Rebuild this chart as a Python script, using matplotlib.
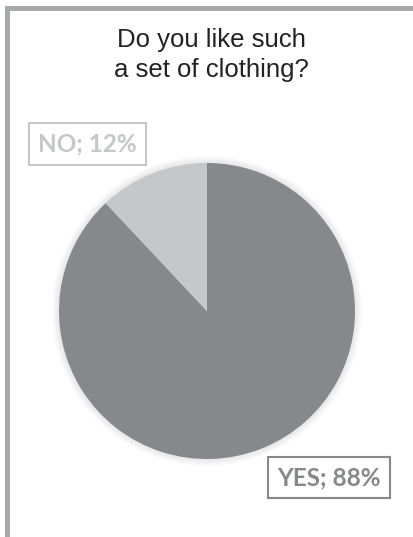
import matplotlib
matplotlib.use("Agg")
import matplotlib.pyplot as plt
from matplotlib.patches import Circle

# Survey answers
answers = ["YES", "NO"]
shares = [88, 12]
answer_colors = ["#87888c", "#c6c7c9"]
title_lines = ["Do you like such", "a set of clothing?"]

W, H = 414, 537
fig = plt.figure(figsize=(W / 100, H / 100), dpi=100)
ax = fig.add_axes([0, 0, 1, 1])
ax.set_xlim(0, W)
ax.set_ylim(0, H)
ax.set_aspect("equal")
ax.axis("off")

cx, cy, r = 207, H - 311, 148

# soft glow around the pie
for i in range(8, 0, -1):
    ax.add_patch(Circle((cx, cy), r + i * 0.9, facecolor="#000000",
                        alpha=0.012, edgecolor="none", zorder=1))

wedges, _ = ax.pie(shares, colors=answer_colors, startangle=90,
                   counterclock=False, center=(cx, cy), radius=r,
                   wedgeprops=dict(linewidth=0, zorder=2))
for w in wedges:
    w.set_zorder(2)
ax.set_xlim(0, W)
ax.set_ylim(0, H)

# outer frame (top and left edges)
ax.plot([7, W], [H - 8, H - 8], color="#a8a9ab", lw=3.6,
        solid_capstyle="projecting", zorder=3)
ax.plot([7, 7], [H - 8, 0], color="#a8a9ab", lw=3.6,
        solid_capstyle="projecting", zorder=3)

fig.text(211 / W, 1 - 28 / H, "\n".join(title_lines), ha="center", va="top",
         fontsize=18.5, family="Liberation Sans", color="#222222",
         linespacing=1.3)

label_font = dict(family="Lato", weight="bold", fontsize=17.5)
label_pos = {"NO": (87.5, H - 144), "YES": (329, H - 477.5)}
for name, val, col in zip(answers, shares, answer_colors):
    x, y = label_pos[name]
    ax.text(x, y, f"{name}; {val}%", ha="center", va="center", color=col,
            zorder=4, **label_font,
            bbox=dict(boxstyle="square,pad=0.39", facecolor="white",
                      edgecolor=col, linewidth=1.5))

fig.savefig("out.png", dpi=100, facecolor="white")
